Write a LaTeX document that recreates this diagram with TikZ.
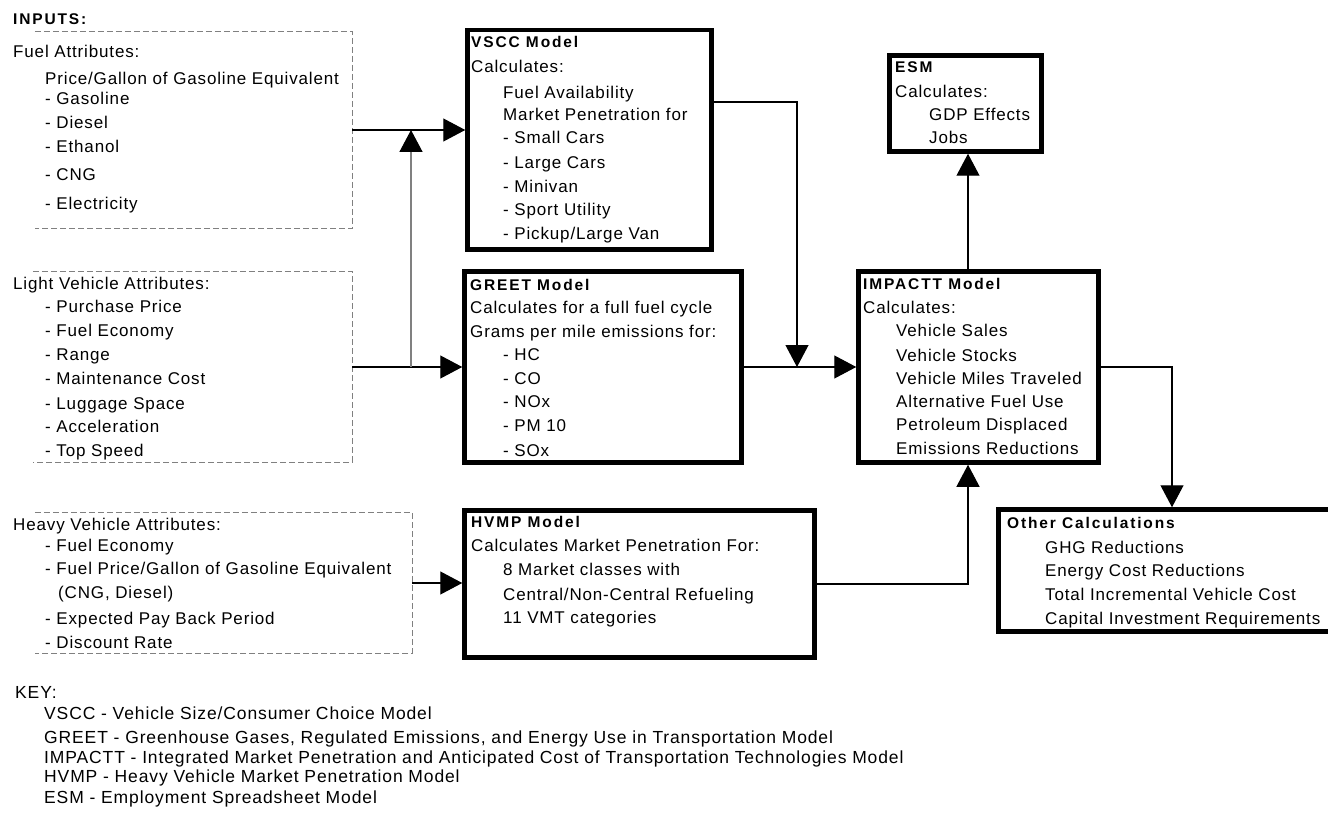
\documentclass[tikz,border=0pt]{standalone}
\usepackage{fontspec}
\setmainfont{Liberation Sans}
\newfontfamily\bodyfont[LetterSpace=5]{Liberation Sans}
\newfontfamily\headfont[LetterSpace=12]{Liberation Sans}
\usetikzlibrary{arrows.meta,positioning}

\tikzset{
  txt/.style={anchor=west, inner sep=0pt, text height=12pt, text depth=3.5pt,
    font={\bodyfont\fontsize{17}{20}\selectfont}},
  head/.style={txt, font={\headfont\bfseries\fontsize{15.5}{18}\selectfont}},
  keytxt/.style={txt, font={\bodyfont\fontsize{17.5}{20}\selectfont}},
  model/.style={draw, line width=4.5pt, inner sep=0pt},
  attrib/.style={inner sep=0pt},
  inedge/.style={draw=gray, line width=1pt, dash pattern=on 6pt off 3pt},
  link/.style={line width=1.2pt, -{Triangle[length=22pt,width=23pt]}},
  uplink/.style={draw=gray, line width=1.5pt, -{Triangle[length=22pt,width=23pt,color=black]}},
}

\begin{document}
\begin{tikzpicture}[x=1pt,y=-1pt]
  \useasboundingbox (0,0) rectangle (1328,818);

  % Model boxes
  \node[model, minimum width=244pt, minimum height=219.5pt] (vscc) at (589.5,139.75) {};
  \node[model, minimum width=277pt, minimum height=191pt] (greet) at (603,367) {};
  \node[model, minimum width=240pt, minimum height=191pt] (impactt) at (978.5,367) {};
  \node[model, minimum width=152pt, minimum height=96pt] (esm) at (965.5,103.5) {};
  \node[model, minimum width=350pt, minimum height=147pt] (hvmp) at (639.5,584) {};
  \node[model, minimum width=342pt, minimum height=122pt] (other) at (1169.5,570.5) {};

  % Input areas (dashed, open on the left)
  \node[attrib, minimum width=317pt, minimum height=197pt] (fuel) at (193.5,130) {};
  \node[attrib, minimum width=319pt, minimum height=190pt] (light) at (192.5,367) {};
  \node[attrib, minimum width=377pt, minimum height=140pt] (heavy) at (223.5,583) {};
  \foreach \a in {fuel,light,heavy}
    \draw[inedge] (\a.north west) -- (\a.north east) -- (\a.south east) -- (\a.south west);

  % Inputs text
  \node[head] (inputs) at (13,20) {INPUTS:};
  \node[txt] (fuelhd) at (13,53) {Fuel Attributes:};
  \foreach \y/\t [count=\i] in {80/{Price/Gallon of Gasoline Equivalent}, 100/- Gasoline,
      124/- Diesel, 148/- Ethanol, 176/- CNG, 205/- Electricity}
    \node[txt] (fuel\i) at (45,\y) {\t};

  \node[txt] (lighthd) at (13,285) {Light Vehicle Attributes:};
  \foreach \y/\t [count=\i] in {308/- Purchase Price, 332/- Fuel Economy, 356/- Range,
      380/- Maintenance Cost, 405/- Luggage Space, 428/- Acceleration, 452/- Top Speed}
    \node[txt] (light\i) at (45,\y) {\t};

  \node[txt] (heavyhd) at (13,526) {Heavy Vehicle Attributes:};
  \foreach \y/\t [count=\i] in {547/- Fuel Economy,
      570/{- Fuel Price/Gallon of Gasoline Equivalent}, 620/- Expected Pay Back Period,
      644/- Discount Rate}
    \node[txt] (heavy\i) at (45,\y) {\t};
  \node[txt] (heavycng) at (58,594) {(CNG, Diesel)};

  % VSCC
  \node[head] (vsccttl) at (471,43) {VSCC Model};
  \node[txt] (vscccalc) at (471,68) {Calculates:};
  \foreach \y/\t [count=\i] in {94/Fuel Availability, 116/Market Penetration for,
      139/- Small Cars, 164/- Large Cars, 188/- Minivan, 211/- Sport Utility,
      235/{- Pickup/Large Van}}
    \node[txt] (vscc\i) at (503,\y) {\t};

  % GREET
  \node[head] (greetttl) at (470,286) {GREET Model};
  \node[txt] (greetcalc) at (470,309) {Calculates for a full fuel cycle};
  \node[txt] (greetgram) at (470,333) {Grams per mile emissions for:};
  \foreach \y/\t [count=\i] in {356/- HC, 380/- CO, 403/- NOx, 427/- PM 10, 452/- SOx}
    \node[txt] (greet\i) at (503,\y) {\t};

  % IMPACTT
  \node[head] (impacttttl) at (863,285) {IMPACTT Model};
  \node[txt] (impacttcalc) at (863,309) {Calculates:};
  \foreach \y/\t [count=\i] in {332/Vehicle Sales, 357/Vehicle Stocks,
      380/Vehicle Miles Traveled, 403/Alternative Fuel Use, 426/Petroleum Displaced,
      450/Emissions Reductions}
    \node[txt] (impactt\i) at (896,\y) {\t};

  % ESM
  \node[head] (esmttl) at (895,68) {ESM};
  \node[txt] (esmcalc) at (895,93) {Calculates:};
  \node[txt] (esm1) at (929,116) {GDP Effects};
  \node[txt] (esm2) at (929,139) {Jobs};

  % HVMP
  \node[head] (hvmpttl) at (471,523) {HVMP Model};
  \node[txt] (hvmpcalc) at (471,547) {Calculates Market Penetration For:};
  \foreach \y/\t [count=\i] in {571/8 Market classes with,
      596/{Central/Non-Central Refueling}, 619/11 VMT categories}
    \node[txt] (hvmp\i) at (503,\y) {\t};

  % Other calculations
  \node[head] (otherttl) at (1007,524) {Other Calculations};
  \foreach \y/\t [count=\i] in {549/GHG Reductions, 572/Energy Cost Reductions,
      596/Total Incremental Vehicle Cost, 620/Capital Investment Requirements}
    \node[txt] (other\i) at (1045,\y) {\t};

  % Key
  \node[keytxt] (key) at (15,694) {KEY:};
  \foreach \y/\t [count=\i] in {715/{VSCC - Vehicle Size/Consumer Choice Model},
      739/{GREET - Greenhouse Gases, Regulated Emissions, and Energy Use in Transportation Model},
      759/IMPACTT - Integrated Market Penetration and Anticipated Cost of Transportation Technologies Model,
      778/HVMP - Heavy Vehicle Market Penetration Model,
      799/ESM - Employment Spreadsheet Model}
    \node[keytxt] (key\i) at (44,\y) {\t};

  % Connectors
  \coordinate (vsccout) at (711.5,102);
  \coordinate (merge) at (797,367);
  \draw[link] (fuel.east) -- (fuel.east -| vscc.west);
  \draw[link] (light.east) -- (greet.west);
  \draw[uplink] (light.east -| 411,0) -- (fuel.east -| 411,0);
  \draw[link] (heavy.east) -- (heavy.east -| hvmp.west);
  \draw[link] (vsccout) -| (merge);
  \draw[link] (greet.east) -- (impactt.west);
  \draw[link] (impactt.north -| 968,0) -- (esm.south -| 968,0);
  \draw[link] (hvmp.east) -| (impactt.south -| 968,0);
  \draw[link] (impactt.east) -| (other.north -| 1172,0);
\end{tikzpicture}
\end{document}
